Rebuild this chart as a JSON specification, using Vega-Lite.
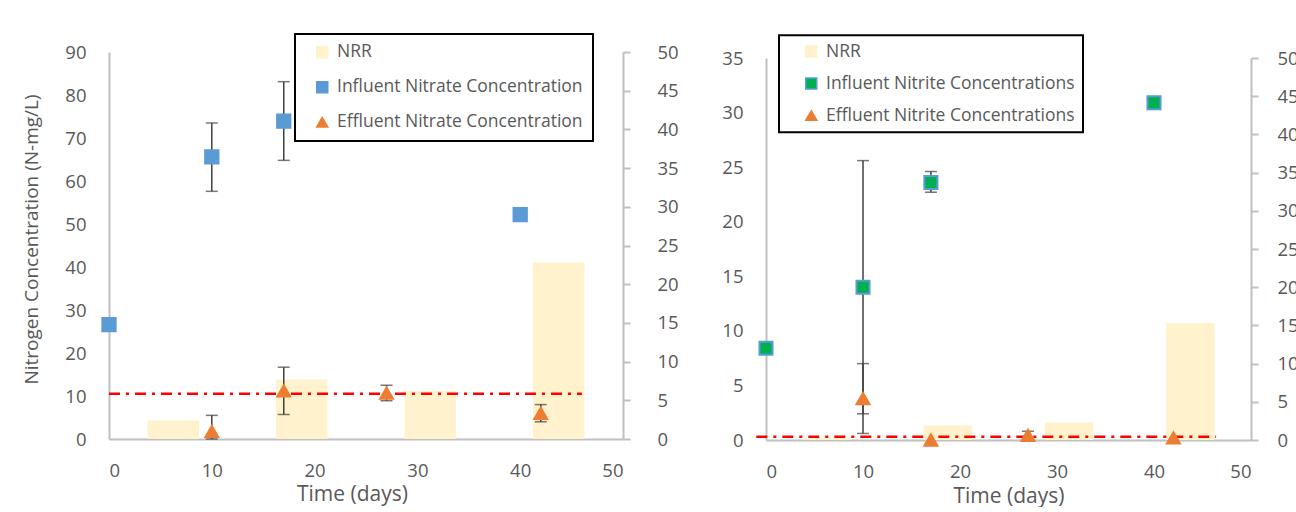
{
  "$schema": "https://vega.github.io/schema/vega-lite/v6.json",
  "padding": {"left": 22, "top": 33, "right": 0, "bottom": 0},
  "spacing": 42,
  "align": "none",
  "resolve": {"scale": {"fill": "independent", "shape": "independent", "stroke": "independent"}},
  "config": {
    "font": "Open Sans",
    "view": {"stroke": null},
    "axis": {
      "labelColor": "#595959", "titleColor": "#595959", "labelFontSize": 18.5, "titleFontSize": 19,
      "titleFontWeight": "normal", "domainColor": "#c0c0c0", "domainWidth": 2, "ticks": false,
      "grid": false, "labelPadding": 23, "labelFont": "Open Sans", "titleFont": "Open Sans"
    },
    "legend": {
      "strokeColor": "#000000", "strokeWidth": 2, "labelColor": "#595959", "labelFontSize": 17.5,
      "labelFont": "Open Sans", "labelLimit": 500, "symbolSize": 121, "symbolStrokeWidth": 1.5, "labelOffset": 6
    }
  },
  "datasets": {
    "nrr_nitrate": [
      {"period": "P1", "NRR": 2.4, "series": "NRR"},
      {"period": "P2", "NRR": 7.7, "series": "NRR"},
      {"period": "P3", "NRR": 6.2, "series": "NRR"},
      {"period": "P4", "NRR": 22.8, "series": "NRR"}
    ],
    "nrr_nitrite": [
      {"period": "P1", "NRR": 0.3, "series": "NRR"},
      {"period": "P2", "NRR": 1.9, "series": "NRR"},
      {"period": "P3", "NRR": 2.3, "series": "NRR"},
      {"period": "P4", "NRR": 15.3, "series": "NRR"}
    ],
    "limit_nitrate": [{"start": 0, "end": 46, "level": 10.5}],
    "limit_nitrite": [{"start": -1, "end": 46.4, "level": 0.3}],
    "nitrate": [
      {"time": 0, "value": 26.6, "series": "Influent Nitrate Concentration"},
      {"time": 10, "value": 65.6, "low": 57.6, "high": 73.5, "series": "Influent Nitrate Concentration"},
      {"time": 17, "value": 73.9, "low": 64.8, "high": 83.1, "series": "Influent Nitrate Concentration"},
      {"time": 40, "value": 52.2, "series": "Influent Nitrate Concentration"},
      {"time": 10, "value": 1.8, "low": 0, "high": 5.5, "series": "Effluent Nitrate Concentration"},
      {"time": 17, "value": 11.2, "low": 5.7, "high": 16.7, "series": "Effluent Nitrate Concentration"},
      {"time": 27, "value": 10.7, "low": 8.9, "high": 12.5, "series": "Effluent Nitrate Concentration"},
      {"time": 42, "value": 6.0, "low": 4.0, "high": 8.0, "series": "Effluent Nitrate Concentration"}
    ],
    "nitrite": [
      {"time": 0, "value": 8.4, "series": "Influent Nitrite Concentrations"},
      {"time": 10, "value": 14.0, "low": 2.4, "high": 25.6, "series": "Influent Nitrite Concentrations"},
      {"time": 17, "value": 23.6, "low": 22.7, "high": 24.6, "series": "Influent Nitrite Concentrations"},
      {"time": 40, "value": 30.9, "series": "Influent Nitrite Concentrations"},
      {"time": 10, "value": 3.8, "low": 0.6, "high": 7.0, "series": "Effluent Nitrite Concentrations"},
      {"time": 17, "value": 0.0, "series": "Effluent Nitrite Concentrations"},
      {"time": 27, "value": 0.43, "low": 0.06, "high": 0.8, "series": "Effluent Nitrite Concentrations"},
      {"time": 42, "value": 0.2, "series": "Effluent Nitrite Concentrations"}
    ]
  },
  "hconcat": [
    {
      "width": 514,
      "height": 387,
      "resolve": {"scale": {"x": "independent", "y": "independent"}, "axis": {"x": "independent", "y": "independent"}},
      "layer": [
        {
          "data": {"name": "nrr_nitrate"},
          "mark": {"type": "bar"},
          "encoding": {
            "x": {"field": "period", "type": "ordinal", "scale": {"paddingInner": 0.6, "paddingOuter": 0.3}, "axis": null},
            "y": {"field": "NRR", "type": "quantitative", "scale": {"domain": [0, 50]},
              "axis": {"orient": "right", "values": [0, 5, 10, 15, 20, 25, 30, 35, 40, 45, 50], "ticks": true, "tickSize": 7, "tickColor": "#c0c0c0", "tickWidth": 2, "labelPadding": 27, "title": null}},
            "fill": {"field": "series", "type": "nominal",
              "scale": {"domain": ["NRR", "Influent Nitrate Concentration", "Effluent Nitrate Concentration"], "range": ["#fff2cc", "#5b9bd5", "#ed7d31"]},
              "legend": {"title": null, "orient": "none", "legendX": 186, "legendY": -18, "rowPadding": 16, "padding": 9.5, "symbolOffset": 9}}
          }
        },
        {
          "layer": [
            {
              "data": {"name": "limit_nitrate"},
              "mark": {"type": "rule", "color": "#ff0000", "strokeWidth": 2.5, "strokeDash": [11, 6, 3, 6]},
              "encoding": {
                "x": {"field": "start", "type": "quantitative", "scale": {"domain": [0, 50]},
                  "axis": {"values": [0, 10, 20, 30, 40, 50], "title": "Time (days)", "titleFontSize": 21, "titlePadding": 4, "labelPadding": 22, "titleX": 243}},
                "x2": {"field": "end"},
                "y": {"field": "level", "type": "quantitative", "scale": {"domain": [0, 90]},
                  "axis": {"orient": "left", "values": [0, 10, 20, 30, 40, 50, 60, 70, 80, 90], "title": "Nitrogen Concentration (N-mg/L)", "titlePadding": 23, "titleY": 187}}
              }
            },
            {
              "data": {"name": "nitrate"},
              "transform": [{"filter": "isValid(datum.low)"}],
              "mark": {"type": "errorbar", "ticks": true, "color": "#404040", "thickness": 1.5, "size": 12},
              "encoding": {
                "x": {"field": "time", "type": "quantitative"},
                "y": {"field": "low", "type": "quantitative", "title": "Nitrogen Concentration (N-mg/L)"},
                "y2": {"field": "high"}
              }
            },
            {
              "data": {"name": "nitrate"},
              "mark": {"type": "point", "filled": true, "opacity": 1, "size": 190, "strokeWidth": 1.5},
              "encoding": {
                "x": {"field": "time", "type": "quantitative", "title": "Time (days)"},
                "y": {"field": "value", "type": "quantitative", "title": "Nitrogen Concentration (N-mg/L)"},
                "fill": {"field": "series", "type": "nominal",
                  "scale": {"domain": ["NRR", "Influent Nitrate Concentration", "Effluent Nitrate Concentration"], "range": ["#fff2cc", "#5b9bd5", "#ed7d31"]},
                  "legend": {"title": null, "orient": "none", "legendX": 186, "legendY": -18, "rowPadding": 16, "padding": 9.5, "symbolOffset": 9}},
                "shape": {"field": "series", "type": "nominal",
                  "scale": {"domain": ["NRR", "Influent Nitrate Concentration", "Effluent Nitrate Concentration"], "range": ["square", "square", "triangle-up"]},
                  "legend": {"title": null, "orient": "none", "legendX": 186, "legendY": -18, "rowPadding": 16, "padding": 9.5, "symbolOffset": 9}},
                "stroke": {"field": "series", "type": "nominal",
                  "scale": {"domain": ["NRR", "Influent Nitrate Concentration", "Effluent Nitrate Concentration"], "range": ["#fff2cc", "#5b9bd5", "#ed7d31"]},
                  "legend": {"title": null, "orient": "none", "legendX": 186, "legendY": -18, "rowPadding": 16, "padding": 9.5, "symbolOffset": 9}}
              }
            }
          ]
        }
      ]
    },
    {
      "width": 485,
      "height": 388,
      "resolve": {"scale": {"x": "independent", "y": "independent"}, "axis": {"x": "independent", "y": "independent"}},
      "layer": [
        {
          "data": {"name": "nrr_nitrite"},
          "mark": {"type": "bar"},
          "encoding": {
            "x": {"field": "period", "type": "ordinal", "scale": {"paddingInner": 0.6, "paddingOuter": 0.3}, "axis": null},
            "y": {"field": "NRR", "type": "quantitative", "scale": {"domain": [0, 50], "range": [388, 6]},
              "axis": {"orient": "right", "values": [0, 5, 10, 15, 20, 25, 30, 35, 40, 45, 50], "ticks": true, "tickSize": 7, "tickColor": "#c0c0c0", "tickWidth": 2, "labelPadding": 19, "title": null}},
            "fill": {"field": "series", "type": "nominal",
              "scale": {"domain": ["NRR", "Influent Nitrite Concentrations", "Effluent Nitrite Concentrations"], "range": ["#fff2cc", "#00b050", "#ed7d31"]},
              "legend": {"title": null, "orient": "none", "legendX": 13, "legendY": -16.7, "rowPadding": 13, "padding": 7.5, "symbolOffset": 16}}
          }
        },
        {
          "layer": [
            {
              "data": {"name": "limit_nitrite"},
              "mark": {"type": "rule", "color": "#ff0000", "strokeWidth": 2.5, "strokeDash": [11, 6, 3, 6]},
              "encoding": {
                "x": {"field": "start", "type": "quantitative", "scale": {"domain": [0, 50]},
                  "axis": {"values": [0, 10, 20, 30, 40, 50], "title": "Time (days)", "titleFontSize": 21, "titlePadding": 5, "labelPadding": 22}},
                "x2": {"field": "end"},
                "y": {"field": "level", "type": "quantitative", "scale": {"domain": [0, 35], "range": [388, 6]},
                  "axis": {"orient": "left", "values": [0, 5, 10, 15, 20, 25, 30, 35], "title": null}}
              }
            },
            {
              "data": {"name": "nitrite"},
              "transform": [{"filter": "isValid(datum.low)"}],
              "mark": {"type": "errorbar", "ticks": true, "color": "#404040", "thickness": 1.5, "size": 12},
              "encoding": {
                "x": {"field": "time", "type": "quantitative"},
                "y": {"field": "low", "type": "quantitative", "title": null, "scale": {"domain": [0, 35], "range": [388, 6]}},
                "y2": {"field": "high"}
              }
            },
            {
              "data": {"name": "nitrite"},
              "mark": {"type": "point", "filled": true, "opacity": 1, "size": 170, "strokeWidth": 2},
              "encoding": {
                "x": {"field": "time", "type": "quantitative", "title": "Time (days)"},
                "y": {"field": "value", "type": "quantitative", "title": null, "scale": {"domain": [0, 35], "range": [388, 6]}},
                "fill": {"field": "series", "type": "nominal",
                  "scale": {"domain": ["NRR", "Influent Nitrite Concentrations", "Effluent Nitrite Concentrations"], "range": ["#fff2cc", "#00b050", "#ed7d31"]},
                  "legend": {"title": null, "orient": "none", "legendX": 13, "legendY": -16.7, "rowPadding": 13, "padding": 7.5, "symbolOffset": 16}},
                "shape": {"field": "series", "type": "nominal",
                  "scale": {"domain": ["NRR", "Influent Nitrite Concentrations", "Effluent Nitrite Concentrations"], "range": ["square", "square", "triangle-up"]},
                  "legend": {"title": null, "orient": "none", "legendX": 13, "legendY": -16.7, "rowPadding": 13, "padding": 7.5, "symbolOffset": 16}},
                "stroke": {"field": "series", "type": "nominal",
                  "scale": {"domain": ["NRR", "Influent Nitrite Concentrations", "Effluent Nitrite Concentrations"], "range": ["#fff2cc", "#5b9bd5", "#ed7d31"]},
                  "legend": {"title": null, "orient": "none", "legendX": 13, "legendY": -16.7, "rowPadding": 13, "padding": 7.5, "symbolOffset": 16}}
              }
            }
          ]
        }
      ]
    }
  ]
}
